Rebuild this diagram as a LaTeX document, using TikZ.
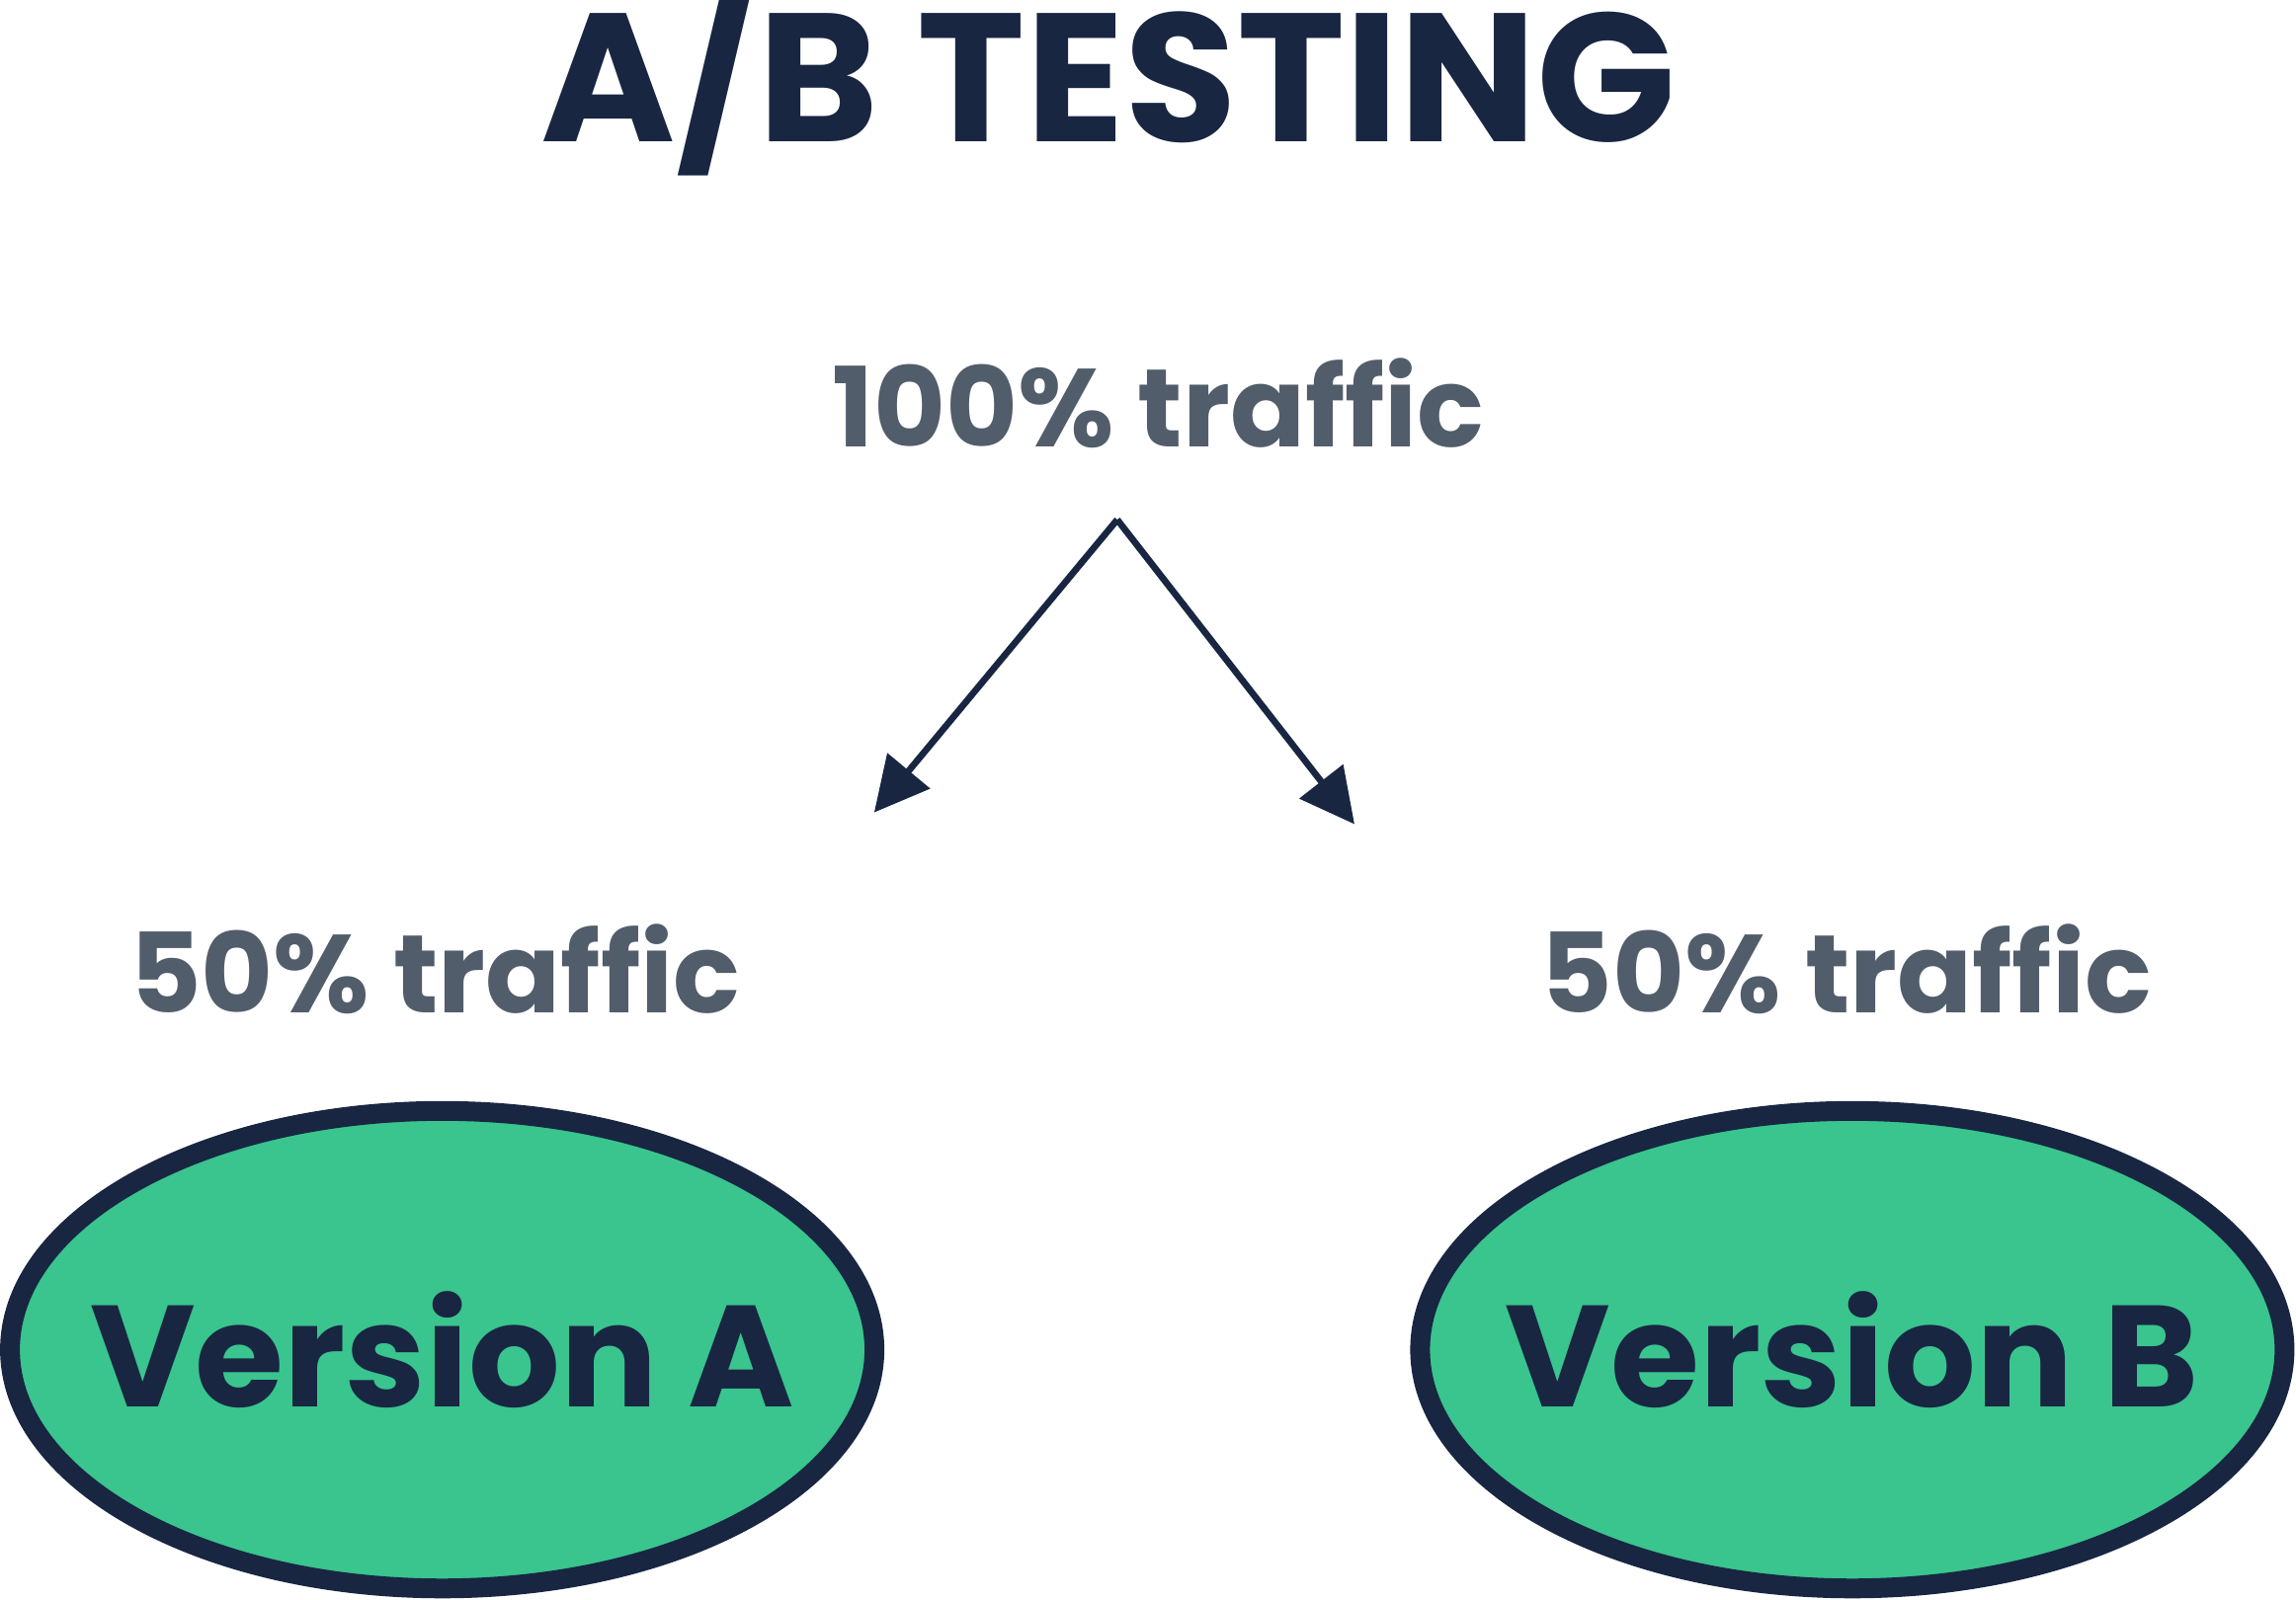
\documentclass[tikz,border=0pt]{standalone}
\usepackage{fontspec}
\setmainfont{Poppins}
\usetikzlibrary{shapes.geometric,arrows.meta}
\definecolor{navy}{HTML}{182642}
\definecolor{mint}{HTML}{3AC48E}
\definecolor{slate}{HTML}{525D6B}

\begin{document}
\begin{tikzpicture}[x=0.01cm, y=-0.01cm,
        version/.style={ellipse, draw=navy, fill=mint, line width=0.135cm,
            minimum width=5.9cm, minimum height=3.26cm, inner sep=0pt,
            label={[text=navy, font=\bfseries\fontsize{28}{34}\selectfont]center:#1}},
        share/.style={anchor=base, text=slate, font=\bfseries\fontsize{21.5}{26}\selectfont},
        split/.style={navy, line width=0.045cm, -{Triangle[length=3.7mm, width=3.7mm]}}]
    \useasboundingbox (0,0) rectangle (1568,1093);

    % Title and incoming traffic
    \node [anchor=base, text=navy, font=\bfseries\fontsize{35.5}{42}\selectfont] (title) at (757,97) {A/B TESTING};
    \node [share] (total) at (791,305) {100\% traffic};

    % Split point and arrow ends
    \coordinate (fork) at (763,355);
    \coordinate (endA) at (597,555);
    \coordinate (endB) at (925,563);

    % Draw the arrows
    \draw[split] (fork) -- (endA);
    \draw[split] (fork) -- (endB);

    % Shares of the traffic
    \node [share] (shareA) at (297,692) {50\% traffic};
    \node [share] (shareB) at (1261,692) {50\% traffic};

    % The two versions
    \node [version=Version A] (verA) at (302,922) {};
    \node [version=Version B] (verB) at (1265,922) {};
\end{tikzpicture}
\end{document}
